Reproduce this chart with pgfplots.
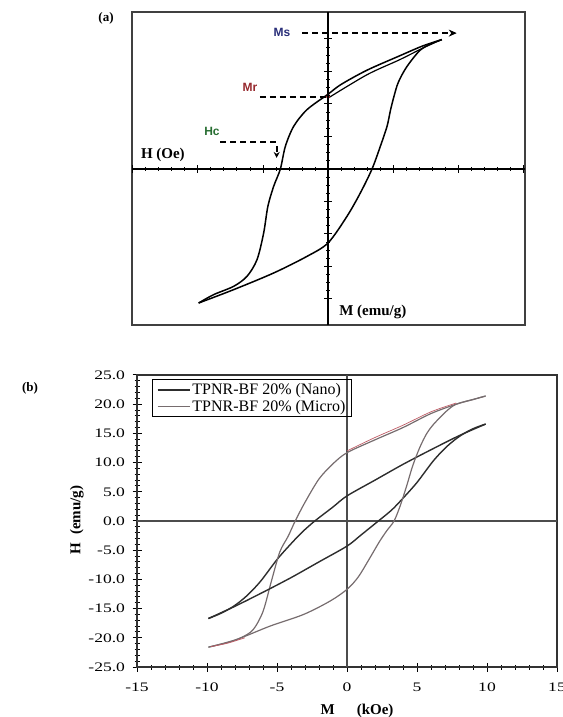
\documentclass[border=0pt]{standalone}
\usepackage{fontspec}
\setmainfont{Liberation Serif}
\newfontfamily\tickfont{Liberation Serif}[FakeStretch=1.35]
\newfontfamily\labfont{Liberation Sans}
\usepackage{pgfplots}
\pgfplotsset{compat=1.18}
\usetikzlibrary{arrows.meta}
\definecolor{msblue}{RGB}{40,45,120}
\definecolor{mrred}{RGB}{150,40,45}
\definecolor{hcgreen}{RGB}{40,110,50}
\definecolor{nanoc}{RGB}{45,45,45}
\definecolor{microc}{RGB}{118,108,110}
\definecolor{redtr}{RGB}{190,90,100}

\pgfplotstableread{
x y
1.75 1.99
1.45 1.89
1.10 1.74
0.60 1.52
0.20 1.30
0.00 1.15
-0.323 0.913
-0.528 0.656
-0.656 0.349
-0.733 0.0
-0.836 -0.267
-0.925 -0.574
-0.990 -0.985
-1.092 -1.395
-1.246 -1.651
-1.451 -1.805
-1.759 -1.933
-1.990 -2.062
}\aupper

\pgfplotstableread{
x y
-1.990 -2.062
-1.451 -1.856
-0.836 -1.600
-0.323 -1.344
0.000 -1.138
0.292 -0.728
0.497 -0.369
0.677 0.0
0.805 0.349
0.908 0.656
0.960 0.900
1.010 1.100
1.080 1.330
1.210 1.570
1.420 1.830
1.620 1.940
1.750 1.990
}\alower

\pgfplotstableread{
x y
0.00 1.09
0.60 1.45
1.10 1.68
1.50 1.88
1.75 1.99
}\ainner

\pgfplotstableread{
x y
9.9 16.6
8.0 14.6
6.0 12.2
4.0 9.7
2.0 7.0
0.0 4.3
-1.0 2.4
-2.3 0.0
-3.2 -1.9
-4.0 -3.9
-5.0 -6.6
-6.2 -10.4
-7.2 -12.9
-8.1 -14.6
-9.0 -15.8
-9.9 -16.7
}\nanoup

\pgfplotstableread{
x y
-9.9 -16.7
-8.0 -14.6
-6.0 -12.2
-4.0 -9.7
-2.0 -7.0
0.0 -4.3
1.0 -2.4
2.24 0.0
3.2 1.9
4.0 3.9
5.0 6.6
6.2 10.4
7.2 12.9
8.1 14.6
9.0 15.8
9.9 16.6
}\nanolow

\pgfplotstableread{
x y
9.9 21.4
9.0 20.8
7.8 20.0
6.0 18.4
4.0 16.0
2.0 13.9
0.0 11.7
-1.0 9.8
-2.0 7.2
-3.0 3.2
-3.7 0.0
-4.2 -2.6
-4.8 -5.3
-5.4 -10.3
-6.0 -15.5
-6.7 -18.6
-7.5 -19.9
-8.5 -20.8
-9.9 -21.6
}\microup

\pgfplotstableread{
x y
-9.9 -21.6
-7.9 -20.3
-5.5 -18.0
-3.1 -16.0
-1.2 -13.7
0.0 -11.7
0.8 -9.6
1.64 -6.3
2.3 -3.6
2.83 -1.7
3.36 0.0
3.8 2.6
4.26 6.0
4.7 9.5
5.2 12.6
5.7 15.0
6.2 16.6
7.1 18.8
7.8 20.0
9.0 20.8
9.9 21.4
}\microlow

\pgfplotstableread{
x y
0.0 12.0
2.0 14.3
4.0 16.4
6.0 18.7
7.8 20.2
}\redtrA

\pgfplotstableread{
x y
-9.7 -21.5
-8.5 -20.9
-7.3 -20.0
}\redtrB

\begin{document}
\begin{tikzpicture}[x=1pt,y=1pt]
\path[use as bounding box] (0,0) rectangle (562,717);

% ---------- panel (a) ----------
\node[font=\bfseries\fontsize{13}{13}\selectfont] at (106,699) {(a)};

\begin{axis}[at={(132pt,392pt)}, anchor=south west, width=393pt, height=313pt, scale only axis,
  xmin=-3.015, xmax=3.03, ymin=-2.4, ymax=2.415,
  axis line style={draw=black!75, line width=1.3pt},
  xtick=\empty, ytick=\empty, clip=false]
\addplot[black, line width=1.5pt, smooth, tension=0.5] table {\aupper};
\addplot[black, line width=1.5pt, smooth, tension=0.5] table {\alower};
\addplot[black, line width=1.2pt, smooth, tension=0.5] table {\ainner};
% annotations
\draw[black, dash pattern=on 6pt off 4pt, line width=1.8pt, -{Stealth[length=8pt,width=7pt]}] (axis cs:-0.40,2.09) -- (axis cs:1.98,2.09);
\node[text=msblue, font=\labfont\bfseries\fontsize{12}{12}\selectfont] at (axis cs:-0.71,2.10) {Ms};
\draw[black, dash pattern=on 6pt off 4pt, line width=1.8pt] (axis cs:-1.05,1.11) -- (axis cs:-0.02,1.11);
\fill[mrred] (axis cs:0,1.12) circle (2.2pt);
\node[text=mrred, font=\labfont\bfseries\fontsize{12}{12}\selectfont] at (axis cs:-1.2,1.25) {Mr};
\draw[black, dash pattern=on 6pt off 4pt, line width=1.8pt, -{Stealth[length=6pt,width=6pt]}] (axis cs:-1.66,0.41) -- (axis cs:-0.79,0.41) -- (axis cs:-0.79,0.17);
\node[text=hcgreen, font=\labfont\bfseries\fontsize{12}{12}\selectfont] at (axis cs:-1.785,0.57) {Hc};
\node[font=\bfseries\fontsize{15}{15}\selectfont] at (axis cs:-2.54,0.215) {H (Oe)};
\node[font=\bfseries\fontsize{15}{15}\selectfont, anchor=west] at (axis cs:0.12,-2.2) {M (emu/g)};
\end{axis}

\begin{axis}[at={(132pt,392pt)}, anchor=south west, width=393pt, height=313pt, scale only axis,
  xmin=-3.015, xmax=3.03, ymin=-2.4, ymax=2.415,
  axis lines=middle, axis line style={-, black, line width=1.3pt},
  every inner x axis line/.append style={-}, every inner y axis line/.append style={-},
  xtick={-3,-2,...,3}, ytick={-2,-1.5,...,2}, minor x tick num=4, minor y tick num=3,
  xticklabels={}, yticklabels={},
  xtick style={black, line width=1pt}, ytick style={black, line width=1pt},
  tick align=center, major tick length=8pt, minor tick length=4pt]
\end{axis}

% ---------- panel (b) ----------
\node[font=\bfseries\fontsize{13}{13}\selectfont] at (30,329) {(b)};

\begin{axis}[at={(137pt,50pt)}, anchor=south west, width=420pt, height=292pt, scale only axis,
  xmin=-15, xmax=15, ymin=-25, ymax=25,
  xtick={-15,-10,...,15}, ytick={-25,-20,...,25},
  minor x tick num=4, minor y tick num=4,
  xtick pos=left, ytick pos=left,
  tick align=center, major tick length=9pt, minor tick length=5pt,
  tick style={black, line width=1pt},
  axis line style={black!80, line width=1.3pt},
  yticklabel style={font=\tickfont\fontsize{13}{13}\selectfont, xshift=-4pt, /pgf/number format/.cd, fixed, fixed zerofill, precision=1, assume math mode=true},
  xticklabel style={font=\tickfont\fontsize{13}{13}\selectfont, yshift=-8pt, /pgf/number format/assume math mode=true},
  xlabel={M\hspace{22pt}(kOe)}, ylabel={H\hspace{8pt}(emu/g)},
  xlabel style={font=\bfseries\fontsize{15}{15}\selectfont, at={(axis description cs:0.524,-0.115)}, anchor=north},
  ylabel style={font=\bfseries\fontsize{15}{15}\selectfont, at={(axis description cs:-0.143,0.503)}, anchor=center},
  legend style={at={(axis description cs:0.036,0.986)}, anchor=north west, draw=black, line width=1.1pt, fill=none,
     font=\fontsize{16}{18}\selectfont, inner xsep=4pt, inner ysep=2pt, row sep=0pt},
  legend cell align=left,
  legend image code/.code={\draw[#1, line width=1.8pt] (0pt,0pt) -- (32pt,0pt);}
]
\draw[black!70, line width=1.8pt] (axis cs:-15,0) -- (axis cs:15,0);
\draw[black!70, line width=1.8pt] (axis cs:0,-25) -- (axis cs:0,25);
\addplot[nanoc, line width=1.4pt, smooth, tension=0.5] table {\nanoup};
\addlegendentry{TPNR-BF 20\% (Nano)}
\addplot[microc, line width=1.2pt, smooth, tension=0.5] table {\microup};
\addlegendentry{TPNR-BF 20\% (Micro)}
\addplot[nanoc, line width=1.4pt, smooth, tension=0.5, forget plot] table {\nanolow};
\addplot[microc, line width=1.2pt, smooth, tension=0.5, forget plot] table {\microlow};
\addplot[redtr, line width=0.7pt, smooth, forget plot] table {\redtrA};
\addplot[redtr, line width=0.7pt, smooth, forget plot] table {\redtrB};
\end{axis}
\end{tikzpicture}
\end{document}
